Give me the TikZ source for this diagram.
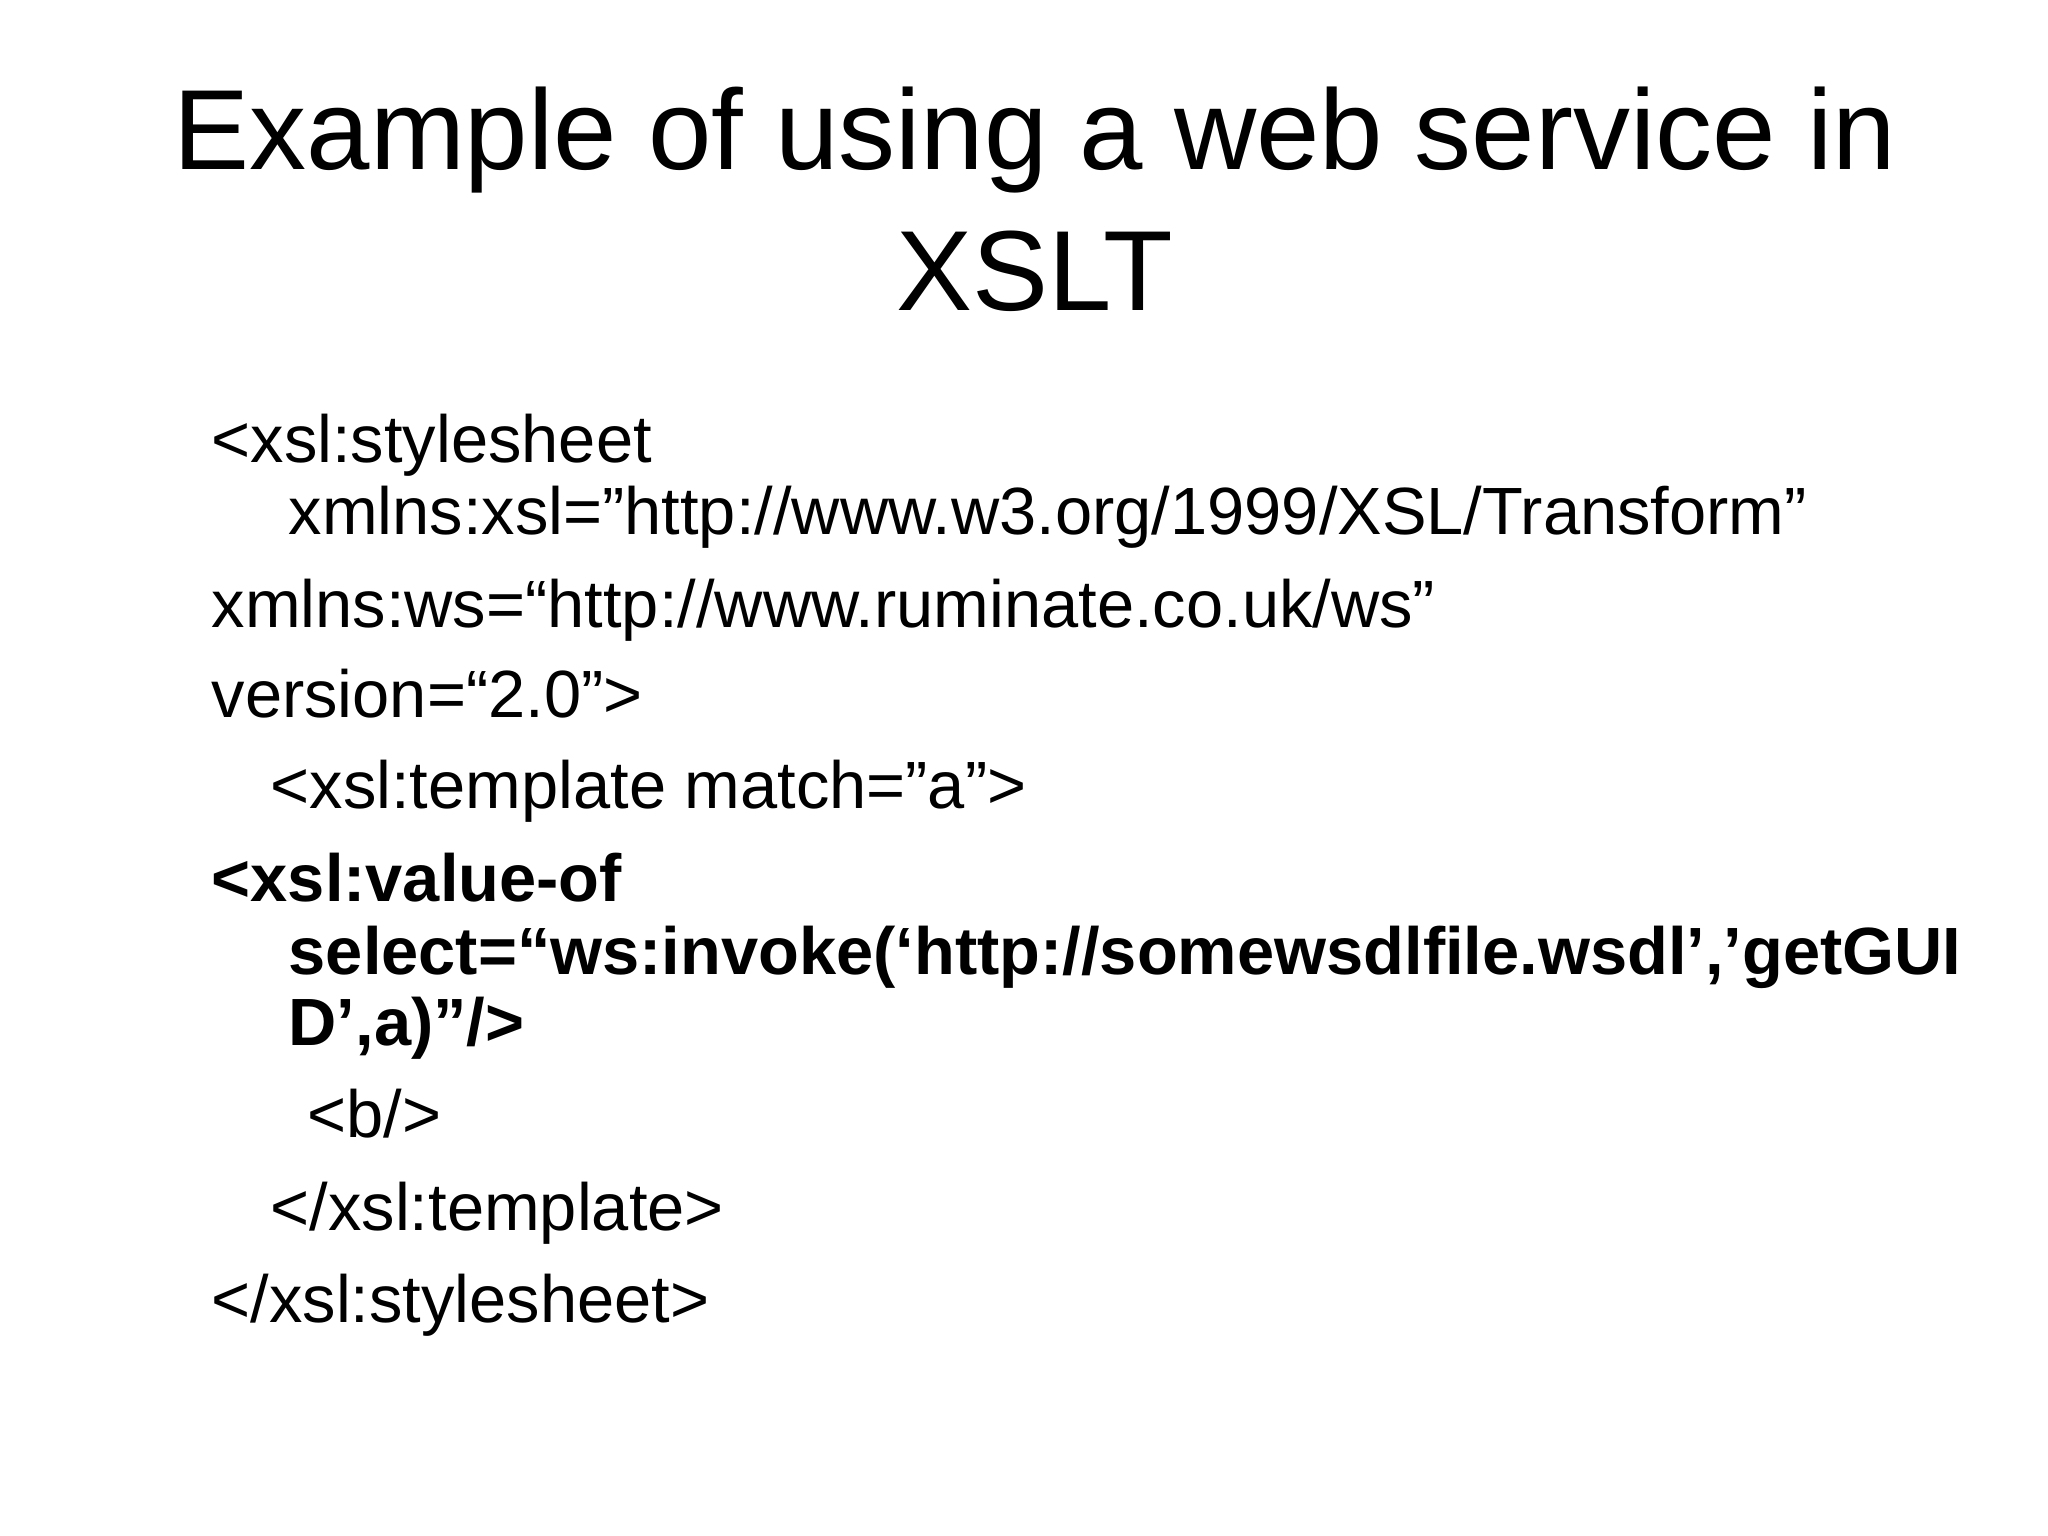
\documentclass[tikz,border=0pt]{standalone}
\usepackage{fontspec}
\setmainfont{Liberation Sans}[Ligatures=NoCommon]
\newcommand{\dq}{\symbol{34}}
\begin{document}
\begin{tikzpicture}[x=0.01cm,y=-0.01cm,
  body/.style={anchor=base west,inner sep=0pt,font=\fontsize{19}{22}\selectfont},
  bbody/.style={body,font=\fontsize{19}{22}\selectfont\bfseries},
  ttl/.style={anchor=base,inner sep=0pt,font=\fontsize{32.4}{36}\selectfont}]
\useasboundingbox[fill=white] (0,0) rectangle (2048,1536);
\node[ttl] (t1) at (1035,169) {Example of using a web service in};
\node[ttl] (t2) at (1035,310) {XSLT};
\node[body] (l1) at (211,462) {<xsl:stylesheet};
\node[body] (l2) at (288,534) {xmlns:xsl=\dq http://www.w3.org/1999/XSL/Transform\dq};
\node[body] (l3) at (211,627) {xmlns:ws=“http://www.ruminate.co.uk/ws”};
\node[body] (l4) at (211,717) {version=“2.0\dq>};
\node[body] (l5) at (270,808) {<xsl:template match=\dq a\dq>};
\node[bbody] (l6) at (211,901) {<xsl:value-of};
\node[bbody] (l7) at (288,974) {select=“ws:invoke(‘http://somewsdlfile.wsdl’,’getGUI};
\node[bbody] (l8) at (288,1045) {D’,a)”/>};
\node[body] (l9) at (307,1137) {<b/>};
\node[body] (l10) at (270,1230) {</xsl:template>};
\node[body] (l11) at (211,1322) {</xsl:stylesheet>};
\end{tikzpicture}
\end{document}
